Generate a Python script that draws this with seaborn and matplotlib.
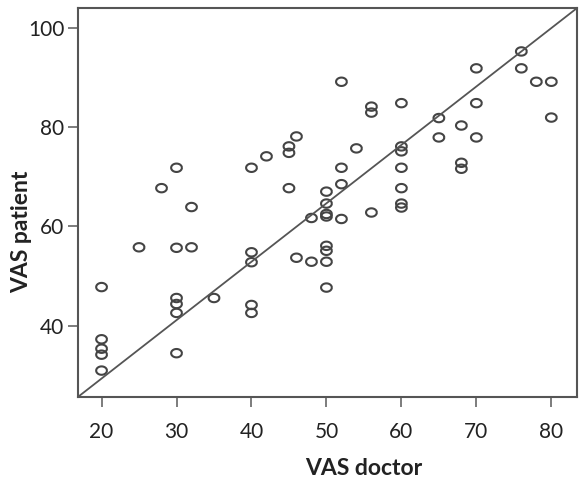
import matplotlib
matplotlib.use("Agg")
import matplotlib.pyplot as plt
import numpy as np
import pandas as pd
import seaborn as sns

# VAS scores, grouped by doctor score
vas_doctor = (
    [20] * 5 + [25] + [28] + [30] * 6 + [32] * 2 + [35] + [40] * 5 + [42]
    + [45] * 3 + [46] * 2 + [48] * 2 + [50] * 8 + [52] * 4 + [54] + [56] * 3
    + [60] * 7 + [65] * 2 + [68] * 3 + [70] * 3 + [76] * 2 + [78] + [80] * 2
)
vas_patient = [
    47.8, 37.3, 35.4, 34.2, 31.0,
    55.8,
    67.7,
    71.8, 55.7, 45.6, 44.4, 42.6, 34.5,
    63.9, 55.8,
    45.6,
    71.8, 54.8, 52.8, 44.2, 42.6,
    74.1,
    76.1, 74.8, 67.7,
    78.1, 53.7,
    61.7, 52.9,
    67.0, 64.6, 62.5, 62.0, 56.1, 55.1, 52.9, 47.7,
    89.1, 71.8, 68.5, 61.5,
    75.7,
    84.1, 82.9, 62.8,
    84.8, 76.1, 75.1, 71.8, 67.7, 64.6, 63.8,
    81.8, 77.9,
    80.3, 72.8, 71.6,
    91.8, 84.8, 77.9,
    95.2, 91.8,
    89.1,
    89.1, 81.9,
]
x_ticks = [20, 30, 40, 50, 60, 70, 80]
y_ticks = [40, 60, 80, 100]
ref_intercept = 5.9
ref_slope = 1.175

df = pd.DataFrame({"VAS doctor": vas_doctor, "VAS patient": vas_patient})

sns.set_theme(style="white")
plt.rcParams["font.family"] = ["Lato", "DejaVu Sans"]

fig = plt.figure(figsize=(5.81, 4.82), dpi=100)
ax = fig.add_axes([0.1348, 0.177, 0.858, 0.806])

# slightly flattened circle, like the SPSS markers
t = np.linspace(0, 2 * np.pi, 40)
ellipse = list(zip(np.cos(t), 0.78 * np.sin(t)))

sns.scatterplot(
    data=df, x="VAS doctor", y="VAS patient", ax=ax,
    marker=ellipse, s=60, facecolor="none", edgecolor="#444444", linewidth=1.5,
)
ax.axline((0, ref_intercept), slope=ref_slope, color="#555555", lw=1.3, zorder=1)

ax.set_xlim(16.9, 83.4)
ax.set_ylim(25.75, 103.9)
ax.set_xticks(x_ticks)
ax.set_yticks(y_ticks)
ax.tick_params(axis="both", which="major", direction="out", length=7, width=1.2,
               color="#666666", labelsize=15, labelcolor="#222222", pad=3,
               bottom=True, left=True)
ax.tick_params(axis="x", pad=11)

for side in ax.spines.values():
    side.set_color("#555555")
    side.set_linewidth(1.5)

ax.set_xlabel("VAS doctor", fontsize=16.5, fontweight="bold", color="#222222")
ax.set_ylabel("VAS patient", fontsize=16.5, fontweight="bold", color="#222222")
ax.xaxis.set_label_coords(0.573, -0.185)
ax.yaxis.set_label_coords(-0.113, 0.424)
ax.xaxis.label.set_va("center")
ax.yaxis.label.set_va("center")

fig.savefig("out.png", dpi=100)
